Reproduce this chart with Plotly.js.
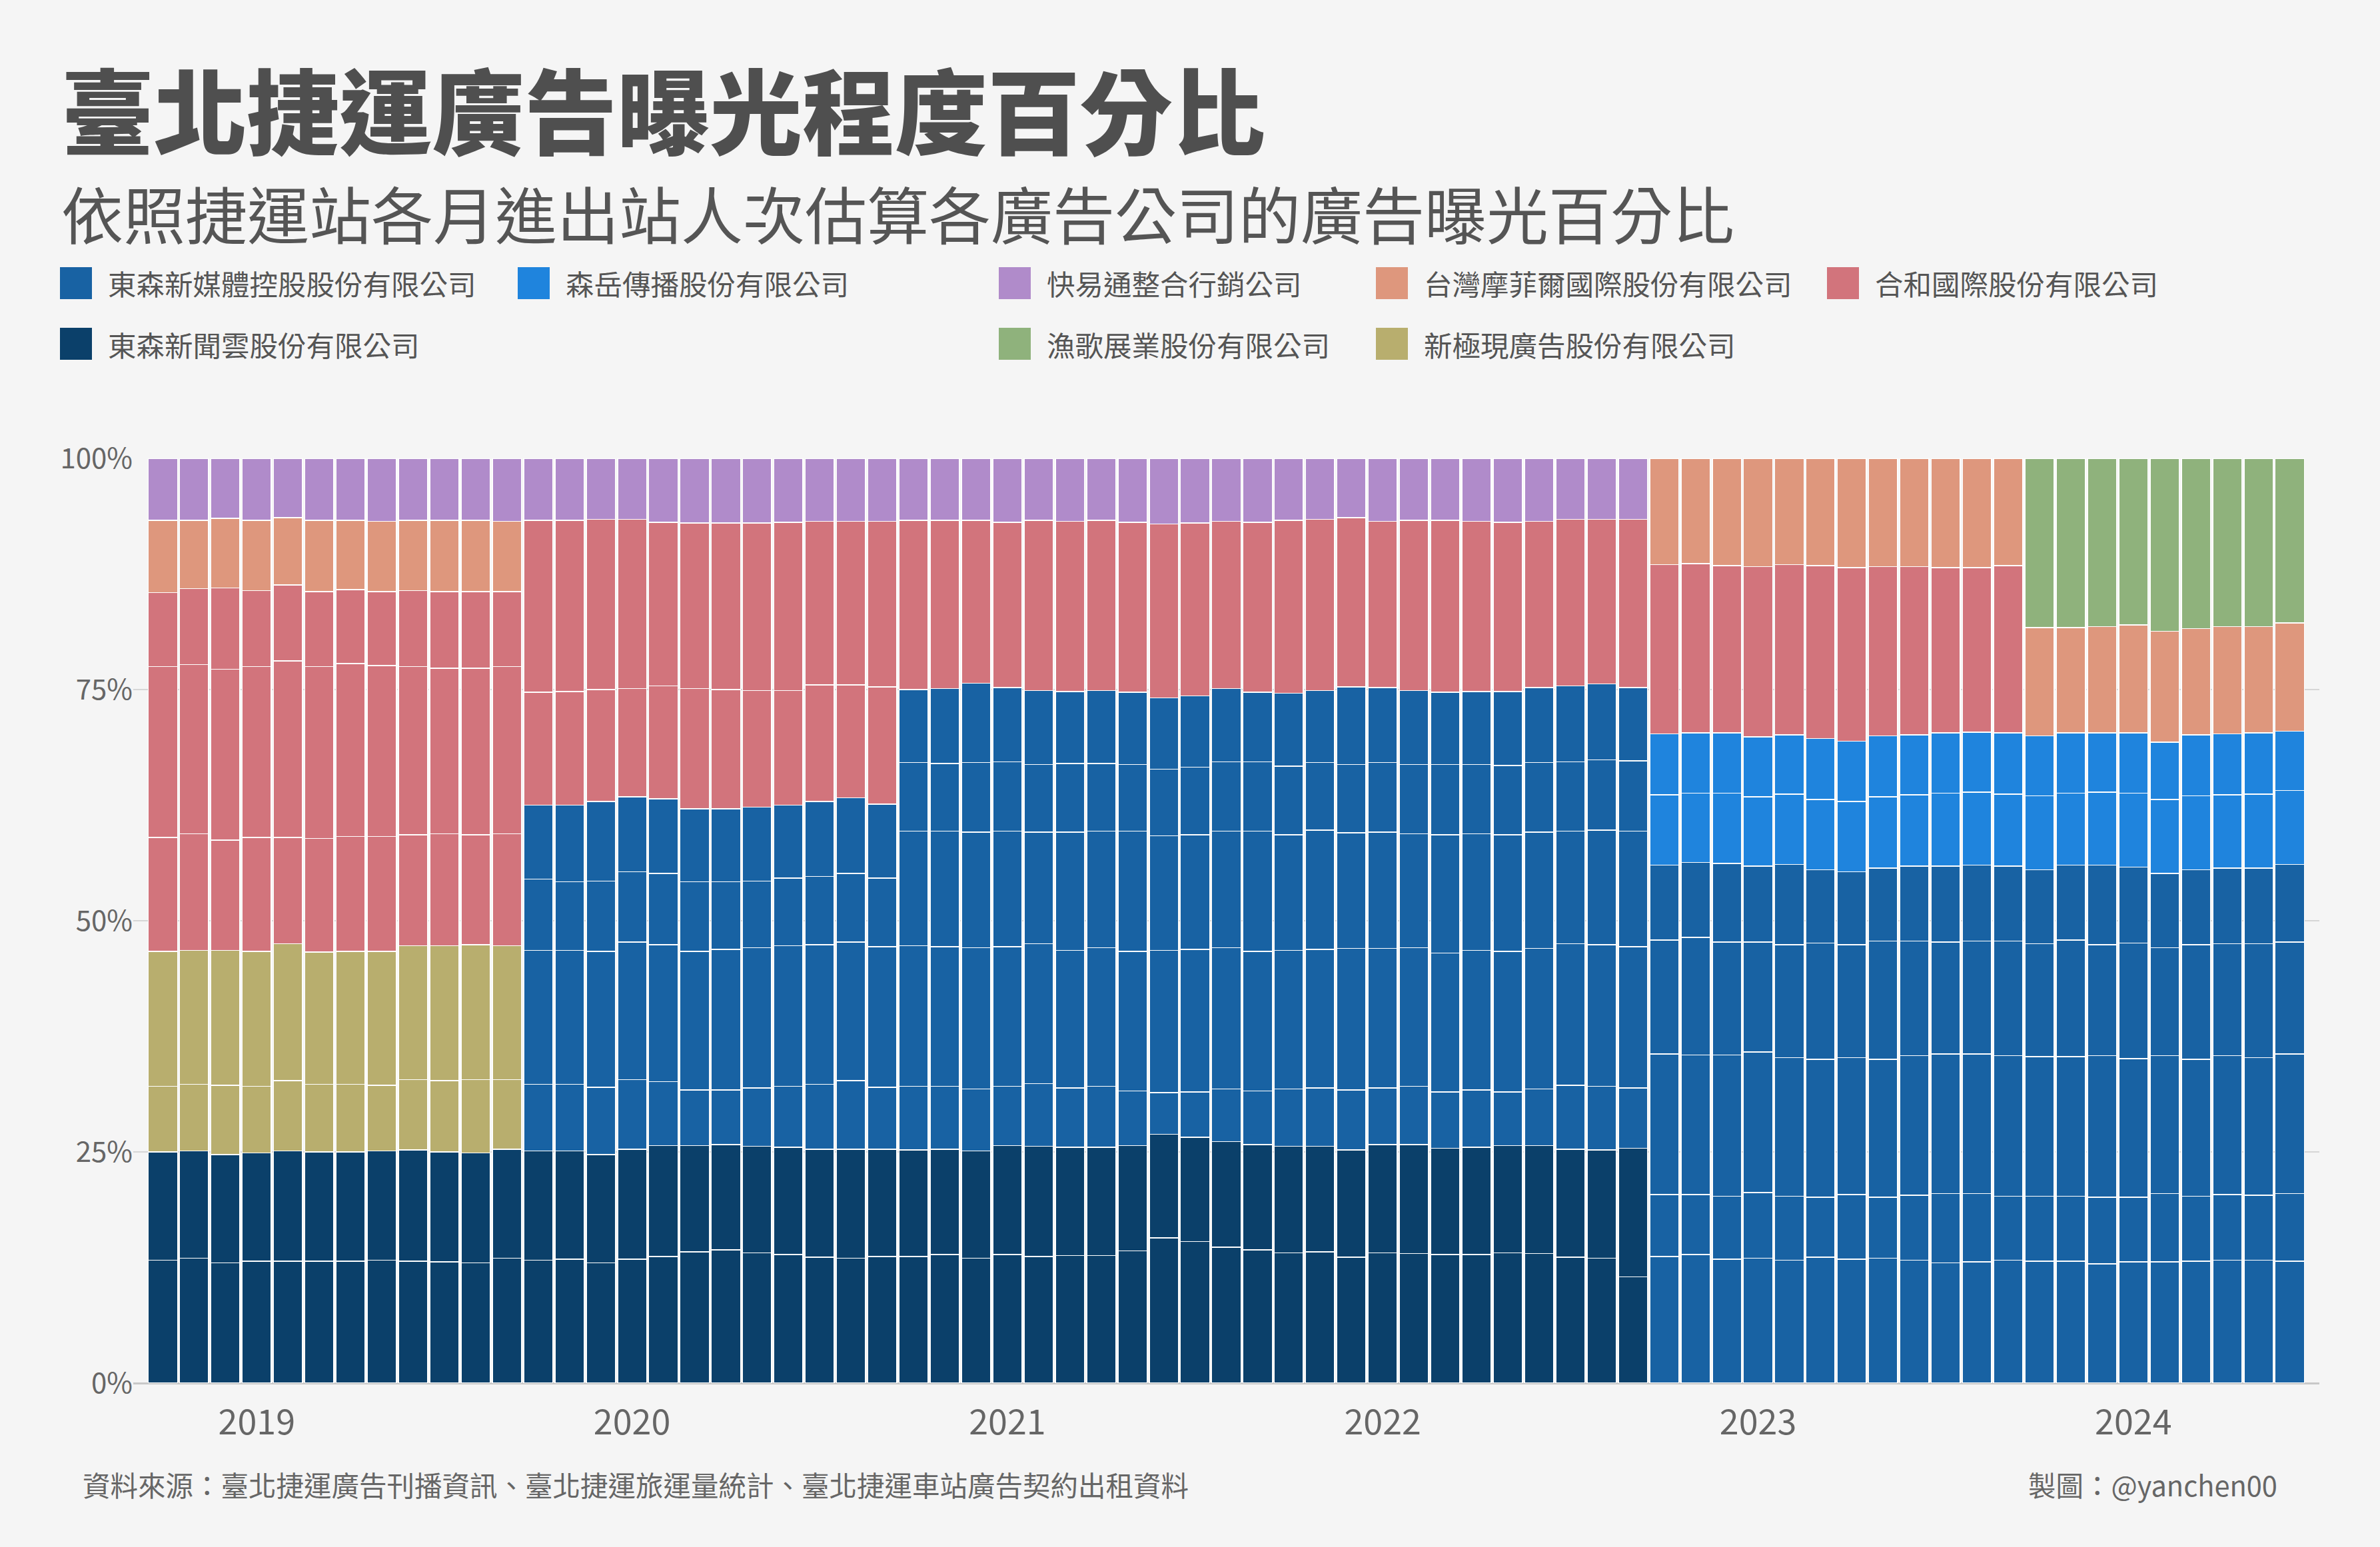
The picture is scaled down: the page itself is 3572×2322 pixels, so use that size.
<!DOCTYPE html>
<html>
<head>
<meta charset="utf-8">
<script src="https://cdn.plot.ly/plotly-3.0.1.min.js"></script>
<style>
html,body{margin:0;padding:0;background:#f5f5f5;}
#chart{width:3572px;height:2322px;}
</style>
</head>
<body>
<div id="chart"></div>
<script>
// ---------- categories (months) ----------
const monthsA  = ['2018-10','2018-11','2018-12','2019-01','2019-02','2019-03','2019-04','2019-05','2019-06','2019-07','2019-08','2019-09'];
const monthsB1 = ['2019-10','2019-11','2019-12','2020-01','2020-02','2020-03','2020-04','2020-05','2020-06','2020-07','2020-08','2020-09'];
const monthsB2 = ['2020-10','2020-11','2020-12','2021-01','2021-02','2021-03','2021-04','2021-05','2021-06','2021-07','2021-08','2021-09',
                  '2021-10','2021-11','2021-12','2022-01','2022-02','2022-03','2022-04','2022-05','2022-06','2022-07','2022-08','2022-09'];
const monthsC  = ['2022-10','2022-11','2022-12','2023-01','2023-02','2023-03','2023-04','2023-05','2023-06','2023-07','2023-08','2023-09'];
const monthsD  = ['2023-10','2023-11','2023-12','2024-01','2024-02','2024-03','2024-04','2024-05','2024-06'];

const yearTickVals = ['2019-01','2020-01','2021-01','2022-01','2023-01','2024-01'];
const yearTickText = ['2019','2020','2021','2022','2023','2024'];
const pctTickVals = [0, 25, 50, 75, 100];
const pctTickText = ['0%', '25%', '50%', '75%', '100%'];

// ---------- company names ----------
const companyNames = {
  media:     '東森新媒體控股股份有限公司',
  senyue:    '森岳傳播股份有限公司',
  kuai:      '快易通整合行銷公司',
  mofei:     '台灣摩菲爾國際股份有限公司',
  hehe:      '合和國際股份有限公司',
  newsCloud: '東森新聞雲股份有限公司',
  yuge:      '漁歌展業股份有限公司',
  xinji:     '新極現廣告股份有限公司'
};

// ---------- period A: 2018-10 .. 2019-09 (% share per contract segment) ----------
const A_newsCloud1 = [13.3,13.5,13.0,13.2,13.2,13.2,13.2,13.3,13.2,13.1,13.0,13.5];
const A_newsCloud2 = [11.7,11.6,11.7,11.7,11.9,11.8,11.8,11.8,12.0,11.9,11.9,11.8];
const A_xinji1     = [7.1,7.2,7.5,7.2,7.6,7.3,7.3,7.1,7.6,7.7,7.9,7.5];
const A_xinji2     = [14.6,14.5,14.6,14.6,14.8,14.3,14.4,14.5,14.5,14.6,14.6,14.5];
const A_hehe1      = [12.3,12.6,11.9,12.3,11.5,12.3,12.4,12.4,12.0,12.1,11.9,12.1];
const A_hehe2      = [18.5,18.3,18.5,18.5,19.1,18.6,18.7,18.5,18.2,17.9,18.0,18.1];
const A_hehe3      = [8.0,8.2,8.8,8.2,8.2,8.1,8.0,8.0,8.2,8.3,8.3,8.1];
const A_mofei      = [7.8,7.4,7.5,7.6,7.3,7.7,7.5,7.6,7.6,7.7,7.7,7.6];
const A_kuai       = [6.7,6.7,6.5,6.7,6.4,6.7,6.7,6.8,6.7,6.7,6.7,6.8];

// ---------- period B1: 2019-10 .. 2020-09 ----------
const B1_newsCloud1 = [13.3,13.4,13.0,13.4,13.7,14.2,14.4,14.1,13.9,13.6,13.5,13.7];
const B1_newsCloud2 = [11.8,11.7,11.7,11.9,12.0,11.5,11.4,11.5,11.6,11.7,11.8,11.6];
const B1_media1     = [7.2,7.2,7.3,7.5,6.9,6.0,5.9,6.3,6.6,7.0,7.4,6.7];
const B1_media2     = [14.5,14.5,14.7,14.9,14.8,15.0,15.2,15.2,15.2,15.1,15.0,15.2];
const B1_media3     = [7.7,7.4,7.6,7.6,7.7,7.5,7.3,7.2,7.3,7.4,7.4,7.4];
const B1_media4     = [8.0,8.3,8.6,8.1,8.1,7.9,7.9,8.0,7.9,8.1,8.2,8.0];
const B1_hehe1      = [12.2,12.3,12.1,11.7,12.2,13.0,12.9,12.6,12.4,12.6,12.2,12.7];
const B1_hehe2      = [18.6,18.5,18.4,18.3,17.7,17.9,18.0,18.1,18.2,17.7,17.7,17.9];
const B1_kuai       = [6.7,6.7,6.6,6.6,6.9,7.0,7.0,7.0,6.9,6.8,6.8,6.8];

// ---------- period B2: 2020-10 .. 2022-09 ----------
const B2_newsCloud1 = [13.7,13.9,13.5,13.9,13.7,13.8,13.8,14.3,15.7,15.3,14.7,14.4,14.1,14.2,13.6,14.1,14.0,13.9,13.9,14.1,14.0,13.6,13.5,11.5];
const B2_newsCloud2 = [11.5,11.4,11.6,11.8,11.9,11.7,11.7,11.4,11.2,11.3,11.4,11.4,11.5,11.4,11.6,11.7,11.8,11.5,11.6,11.6,11.7,11.7,11.7,13.9];
const B2_media1     = [6.9,6.8,6.7,6.4,6.8,6.4,6.6,5.9,4.5,4.9,5.7,5.8,6.2,6.3,6.5,6.1,6.3,6.1,6.2,5.8,6.1,6.9,6.9,6.5];
const B2_media2     = [15.2,15.1,15.3,15.1,15.1,14.9,15.0,15.1,15.4,15.4,15.3,15.1,15.0,15.0,15.3,15.1,15.0,15.0,15.1,15.2,15.2,15.3,15.3,15.3];
const B2_media3     = [12.4,12.5,12.5,12.5,12.1,12.8,12.6,13.0,12.4,12.4,12.6,13.0,12.5,12.9,12.5,12.6,12.3,12.8,12.6,12.6,12.6,12.2,12.4,12.5];
const B2_media4     = [7.4,7.3,7.5,7.5,7.3,7.4,7.3,7.2,7.2,7.3,7.5,7.5,7.4,7.3,7.4,7.5,7.5,7.6,7.5,7.5,7.5,7.5,7.6,7.6];
const B2_media5     = [7.9,8.1,8.6,8.0,8.0,7.8,7.9,7.8,7.7,7.7,7.9,7.5,7.9,7.8,8.4,8.1,8.0,7.8,7.9,8.0,8.1,8.2,8.2,7.9];
const B2_hehe       = [18.3,18.2,17.6,17.9,18.4,18.4,18.4,18.4,18.8,18.7,18.1,18.4,18.7,18.5,18.3,18.0,18.4,18.6,18.4,18.3,18.0,18.0,17.8,18.2];
const B2_kuai       = [6.7,6.7,6.7,6.9,6.7,6.8,6.7,6.9,7.1,7.0,6.8,6.9,6.7,6.6,6.4,6.8,6.7,6.7,6.8,6.9,6.8,6.6,6.6,6.6];

// ---------- period C: 2022-10 .. 2023-09 ----------
const C_media1  = [13.7,13.9,13.4,13.5,13.3,13.6,13.4,13.5,13.3,13.0,13.1,13.3];
const C_media2  = [6.7,6.5,6.8,7.1,6.9,6.5,7.0,6.6,7.0,7.5,7.4,6.9];
const C_media3  = [15.2,15.1,15.3,15.2,15.0,14.9,14.8,14.9,15.1,15.1,15.1,15.2];
const C_media4  = [12.3,12.7,12.2,11.9,12.2,12.6,12.2,12.8,12.4,12.1,12.2,12.4];
const C_media5  = [8.1,8.1,8.5,8.2,8.7,7.9,7.9,7.9,8.1,8.2,8.2,8.1];
const C_senyue1 = [7.6,7.5,7.6,7.5,7.6,7.6,7.6,7.7,7.7,7.9,7.9,7.8];
const C_senyue2 = [6.6,6.5,6.5,6.5,6.4,6.6,6.5,6.6,6.5,6.5,6.5,6.6];
const C_hehe    = [18.3,18.3,18.1,18.4,18.4,18.7,18.8,18.3,18.2,17.9,17.8,18.1];
const C_mofei   = [11.5,11.4,11.6,11.7,11.5,11.6,11.8,11.7,11.7,11.8,11.8,11.6];

// ---------- period D: 2023-10 .. 2024-06 ----------
const D_media1  = [13.2,13.2,12.9,13.1,13.1,13.2,13.3,13.3,13.2];
const D_media2  = [7.0,7.0,7.2,7.0,7.4,7.0,7.1,7.0,7.3];
const D_media3  = [15.1,15.1,15.3,15.0,14.9,14.8,15.0,14.9,15.1];
const D_media4  = [12.2,12.6,12.0,12.5,11.7,12.4,12.1,12.3,12.1];
const D_media5  = [8.0,8.1,8.6,8.2,8.0,8.1,8.2,8.2,8.4];
const D_senyue1 = [8.0,7.8,7.9,8.0,8.0,8.0,7.9,8.0,8.0];
const D_senyue2 = [6.5,6.5,6.4,6.5,6.2,6.6,6.6,6.6,6.4];
const D_mofei   = [11.7,11.4,11.5,11.7,12.0,11.5,11.6,11.5,11.7];
const D_yuge    = [18.3,18.3,18.2,18.0,18.7,18.4,18.2,18.2,17.8];

// ---------- styles ----------
const colors = {
  media: '#1862a3', senyue: '#1f84dd', kuai: '#b08bca', mofei: '#de977d',
  hehe: '#d2747c', newsCloud: '#0b406a', yuge: '#8fb27c', xinji: '#b8ae6e'
};
const FONT = '"Noto Sans CJK TC", "Noto Sans CJK SC", sans-serif';
const TXT = '#555555';

// stacked segments, bottom to top, per period
const periods = [
  {x: monthsA, segs: [['newsCloud',A_newsCloud1],['newsCloud',A_newsCloud2],['xinji',A_xinji1],['xinji',A_xinji2],
                      ['hehe',A_hehe1],['hehe',A_hehe2],['hehe',A_hehe3],['mofei',A_mofei],['kuai',A_kuai]]},
  {x: monthsB1, segs: [['newsCloud',B1_newsCloud1],['newsCloud',B1_newsCloud2],['media',B1_media1],['media',B1_media2],
                       ['media',B1_media3],['media',B1_media4],['hehe',B1_hehe1],['hehe',B1_hehe2],['kuai',B1_kuai]]},
  {x: monthsB2, segs: [['newsCloud',B2_newsCloud1],['newsCloud',B2_newsCloud2],['media',B2_media1],['media',B2_media2],
                       ['media',B2_media3],['media',B2_media4],['media',B2_media5],['hehe',B2_hehe],['kuai',B2_kuai]]},
  {x: monthsC, segs: [['media',C_media1],['media',C_media2],['media',C_media3],['media',C_media4],['media',C_media5],
                      ['senyue',C_senyue1],['senyue',C_senyue2],['hehe',C_hehe],['mofei',C_mofei]]},
  {x: monthsD, segs: [['media',D_media1],['media',D_media2],['media',D_media3],['media',D_media4],['media',D_media5],
                      ['senyue',D_senyue1],['senyue',D_senyue2],['mofei',D_mofei],['yuge',D_yuge]]}
];

const traces = [];
periods.forEach(p => {
  p.segs.forEach(([key, vals]) => {
    traces.push({
      type: 'bar', x: p.x, y: vals, name: companyNames[key], legendgroup: key,
      showlegend: false,
      marker: {color: colors[key], line: {color: '#ffffff', width: 1.5}},
      hovertemplate: '%{x}<br>' + companyNames[key] + ': %{y:.1f}%<extra></extra>'
    });
  });
});

const allMonths = [].concat(monthsA, monthsB1, monthsB2, monthsC, monthsD);

// pixel -> paper helpers (plot area in px)
const PL = 200, PR = 3481, PT = 688, PB = 2076;
const px = v => (v - PL) / (PR - PL);
const py = v => (PB - v) / (PB - PT);

// manual legend layout
const legendItems = [
  ['media', 90, 425], ['senyue', 777, 425], ['kuai', 1499, 425], ['mofei', 2065, 425], ['hehe', 2742, 425],
  ['newsCloud', 90, 516], ['yuge', 1499, 516], ['xinji', 2065, 516]
];
const shapes = [];
const annotations = [
  {text: '臺北捷運廣告曝光程度百分比', x: px(90), y: py(160), xref: 'paper', yref: 'paper',
   xanchor: 'left', yanchor: 'middle', showarrow: false,
   font: {family: FONT, size: 139, color: '#4f4f4f', weight: 900}},
  {text: '依照捷運站各月進出站人次估算各廣告公司的廣告曝光百分比', x: px(90), y: py(318), xref: 'paper', yref: 'paper',
   xanchor: 'left', yanchor: 'middle', showarrow: false,
   font: {family: FONT, size: 93, color: TXT}},
  {text: '資料來源：臺北捷運廣告刊播資訊、臺北捷運旅運量統計、臺北捷運車站廣告契約出租資料', x: px(122), y: py(2228),
   xref: 'paper', yref: 'paper', xanchor: 'left', yanchor: 'middle', showarrow: false,
   font: {family: FONT, size: 41.5, color: '#666666'}},
  {text: '製圖：@yanchen00', x: px(3420), y: py(2228), xref: 'paper', yref: 'paper',
   xanchor: 'right', yanchor: 'middle', showarrow: false,
   font: {family: FONT, size: 41.5, color: '#666666'}}
];
legendItems.forEach(([key, lx, ly]) => {
  shapes.push({type: 'rect', xref: 'paper', yref: 'paper', x0: px(lx), x1: px(lx + 48), y0: py(ly + 24), y1: py(ly - 24),
               fillcolor: colors[key], line: {width: 0}});
  annotations.push({text: companyNames[key], x: px(lx + 70), y: py(ly), xref: 'paper', yref: 'paper',
                    xanchor: 'left', yanchor: 'middle', showarrow: false,
                    font: {family: FONT, size: 42.5, color: TXT}});
});

const layout = {
  width: 3572, height: 2322,
  paper_bgcolor: '#f5f5f5', plot_bgcolor: '#f5f5f5',
  margin: {l: PL, r: 3572 - PR, t: PT, b: 2322 - PB, pad: 0},
  barmode: 'stack', bargap: 0.07,
  showlegend: false,
  font: {family: FONT, color: TXT},
  xaxis: {
    type: 'category', categoryorder: 'array', categoryarray: allMonths,
    range: [-0.947, 68.947],
    tickmode: 'array', tickvals: yearTickVals, ticktext: yearTickText,
    ticks: 'outside', ticklen: 14, tickcolor: 'rgba(0,0,0,0)',
    tickfont: {family: FONT, size: 52, color: '#666666'},
    showgrid: false, zeroline: false, showline: false, fixedrange: true
  },
  yaxis: {
    range: [0, 100], tickmode: 'array', tickvals: pctTickVals, ticktext: pctTickText,
    tickfont: {family: FONT, size: 42, color: '#666666'},
    ticks: '', showgrid: true, gridcolor: '#d6d6d6', gridwidth: 2,
    zeroline: true, zerolinecolor: '#c8c8c8', zerolinewidth: 3, showline: false, fixedrange: true
  },
  shapes: shapes,
  annotations: annotations
};

Plotly.newPlot('chart', traces, layout, {displayModeBar: false, staticPlot: true});
</script>
</body>
</html>
